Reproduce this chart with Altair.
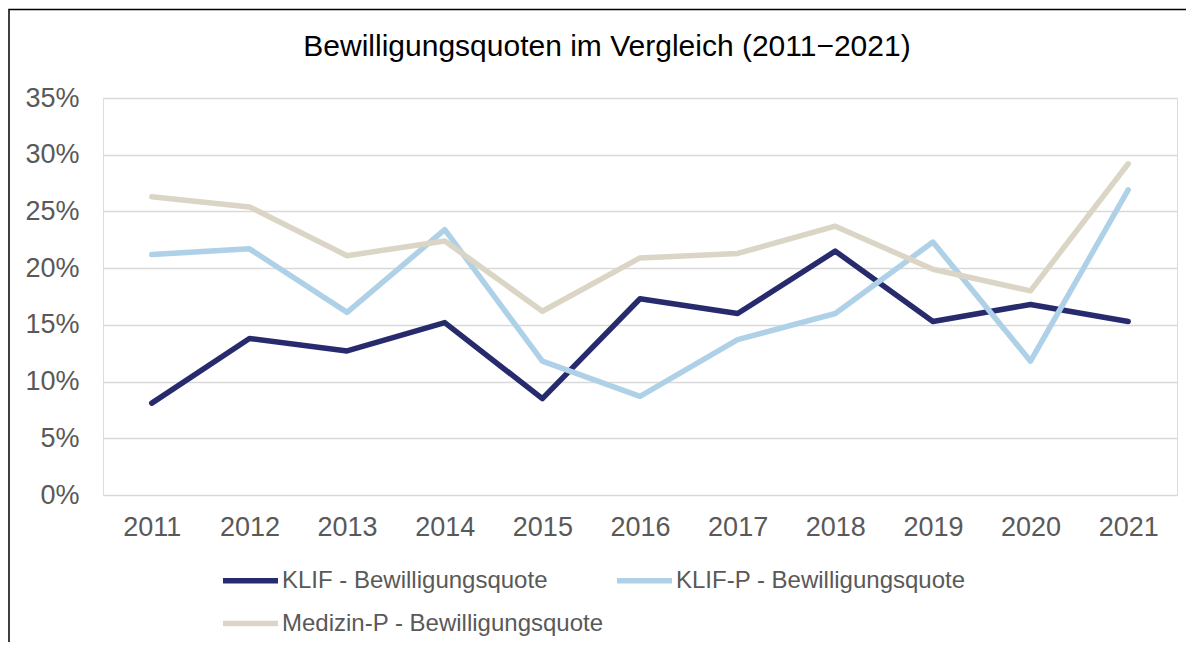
import altair as alt
import pandas as pd

# ---- data ----
years = ["2011", "2012", "2013", "2014", "2015", "2016", "2017", "2018", "2019", "2020", "2021"]
klif = [8.1, 13.8, 12.7, 15.2, 8.5, 17.3, 16.0, 21.5, 15.3, 16.8, 15.3]
klif_p = [21.2, 21.7, 16.1, 23.4, 11.8, 8.7, 13.7, 16.0, 22.3, 11.8, 26.9]
medizin_p = [26.3, 25.4, 21.1, 22.4, 16.2, 20.9, 21.3, 23.7, 19.9, 18.0, 29.2]

series_names = [
    "KLIF - Bewilligungsquote",
    "KLIF-P - Bewilligungsquote",
    "Medizin-P - Bewilligungsquote",
]
series_colors = ["#272B6D", "#AFD1E8", "#DAD5C5"]
y_ticks = [0, 0.05, 0.10, 0.15, 0.20, 0.25, 0.30, 0.35]

rows = []
for name, vals in zip(series_names, [klif, klif_p, medizin_p]):
    for yr, v in zip(years, vals):
        rows.append({"Jahr": yr, "Quote": v / 100.0, "Serie": name,
                     "order": series_names.index(name)})
df = pd.DataFrame(rows)

FONT = "Liberation Sans"

lines = alt.Chart(df).mark_line(
    strokeWidth=5.5, strokeCap="round", strokeJoin="round"
).encode(
    x=alt.X("Jahr:O", sort=years, title=None,
            axis=alt.Axis(labelAngle=0, labelFontSize=27, labelColor="#595959",
                          labelFont=FONT, labelPadding=19, ticks=False,
                          domain=False, grid=False)),
    y=alt.Y("Quote:Q", title=None,
            scale=alt.Scale(domain=[0, 0.35], nice=False),
            axis=alt.Axis(values=y_ticks, format=".0%", labelFontSize=27,
                          labelColor="#595959", labelFont=FONT, labelPadding=24,
                          ticks=False, domain=False, grid=True,
                          gridColor="#D9D9D9", gridWidth=1.6)),
    color=alt.Color("Serie:N", sort=series_names,
                    scale=alt.Scale(domain=series_names, range=series_colors),
                    legend=alt.Legend(title=None, orient="none", legendX=117,
                                      legendY=452, direction="horizontal",
                                      columns=2, symbolType="stroke",
                                      symbolSize=3025, symbolStrokeWidth=5.5,
                                      labelFontSize=24, labelColor="#595959",
                                      labelFont=FONT, labelOffset=1,
                                      labelLimit=600, columnPadding=2,
                                      rowPadding=-17.5)),
    order=alt.Order("order:Q"),
    detail="Serie:N",
)

# decorative outer frame of the original chart
frame = alt.Chart(pd.DataFrame({"f": [0]})).mark_rect(
    fill="transparent", stroke="#000000", strokeWidth=1.5
).encode(
    x=alt.value(-94), x2=alt.value(1300),
    y=alt.value(-88.5), y2=alt.value(700),
)

chart = alt.layer(frame, lines).properties(
    width=1074,
    height=397,
    autosize=alt.AutoSizeParams(type="none"),
    padding={"left": 95, "top": 90, "right": 9, "bottom": 147},
    title=alt.TitleParams(
        "Bewilligungsquoten im Vergleich (2011−2021)",
        fontSize=30, font=FONT, fontWeight="normal", color="#000000",
        anchor="middle", dx=-33, offset=-77, baseline="alphabetic",
    ),
).configure_view(stroke=None).configure(background="white")

chart.save("out.html", embed_options={"renderer": "svg", "actions": False})
